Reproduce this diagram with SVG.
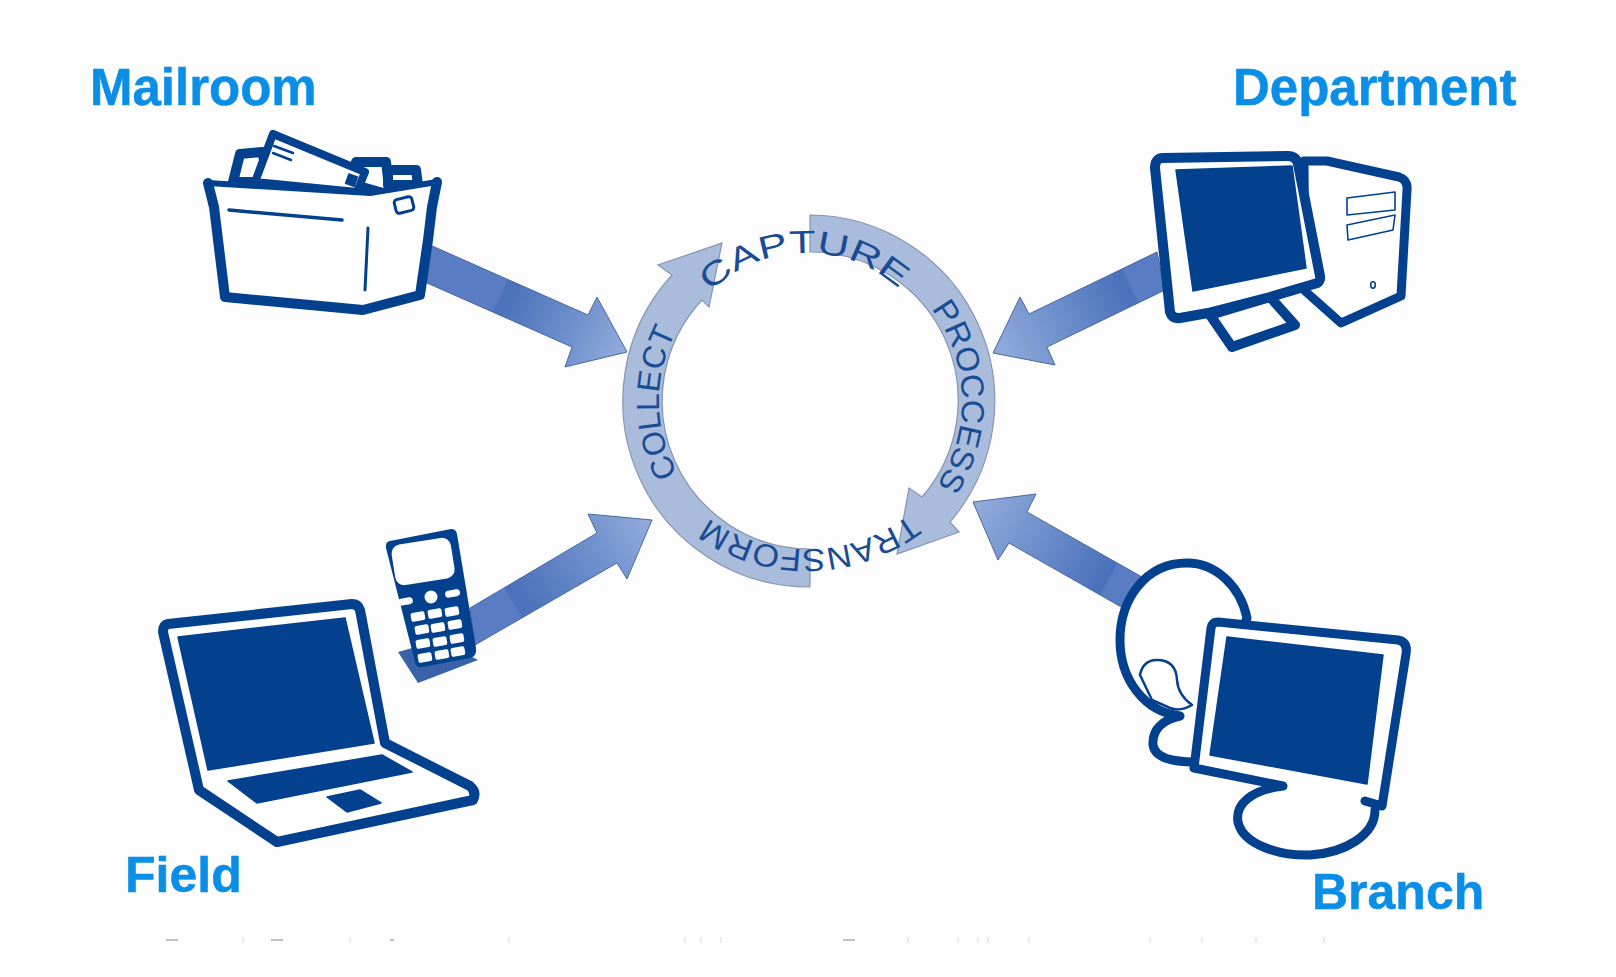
<svg xmlns="http://www.w3.org/2000/svg" xmlns:xlink="http://www.w3.org/1999/xlink" width="1616" height="977" viewBox="0 0 1616 977">
<style>
.lbl{font-family:"Liberation Sans",Arial,sans-serif;font-weight:700;font-size:51px;fill:#0b8fe6;stroke:#0b8fe6;stroke-width:.5}
.ring{fill:#a9bcdc;stroke:#8795b0;stroke-width:1.2}
.rt{font-family:"Liberation Sans",Arial,sans-serif;font-size:32px;fill:#1a4c94}
.ol{fill:#fff;stroke:#03418e;stroke-width:10;stroke-linejoin:round;stroke-linecap:round}
.th{fill:none;stroke:#03418e;stroke-linecap:round;stroke-linejoin:round}
.dk{fill:#03418e;stroke:#03418e;stroke-width:1.5;stroke-linejoin:round}
.key{fill:#fff}
.arw{stroke:#4a68a0;stroke-width:1}
</style>
<defs>
<linearGradient id="g1" gradientUnits="userSpaceOnUse" x1="430" y1="263" x2="627" y2="352"><stop offset="0" stop-color="#5a7cc2"/><stop offset=".35" stop-color="#5a7cc2"/><stop offset=".37" stop-color="#4a70ba"/><stop offset=".72" stop-color="#6f90cc"/><stop offset="1" stop-color="#93acdb"/></linearGradient>
<linearGradient id="g2" gradientUnits="userSpaceOnUse" x1="1160" y1="271" x2="993" y2="353"><stop offset="0" stop-color="#5a7cc2"/><stop offset=".17" stop-color="#5a7cc2"/><stop offset=".19" stop-color="#4a70ba"/><stop offset=".62" stop-color="#6f90cc"/><stop offset="1" stop-color="#93acdb"/></linearGradient>
<linearGradient id="g3" gradientUnits="userSpaceOnUse" x1="472" y1="627" x2="652" y2="520"><stop offset="0" stop-color="#5a7cc2"/><stop offset=".22" stop-color="#5a7cc2"/><stop offset=".24" stop-color="#4a70ba"/><stop offset=".68" stop-color="#6f90cc"/><stop offset="1" stop-color="#93acdb"/></linearGradient>
<linearGradient id="g4" gradientUnits="userSpaceOnUse" x1="1133" y1="592" x2="973" y2="502"><stop offset="0" stop-color="#5a7cc2"/><stop offset=".14" stop-color="#5a7cc2"/><stop offset=".16" stop-color="#4a70ba"/><stop offset=".6" stop-color="#6f90cc"/><stop offset="1" stop-color="#93acdb"/></linearGradient>
<path id="pCap" d="M710,292A138,138 0 0 1 908,298"/>
<path id="pPro" d="M931.2,308.9A153,153 0 0 1 926.2,499.3"/>
<path id="pTra" d="M910,514A170,170 0 0 1 703,514"/>
<path id="pCol" d="M677.8,473.7A150,150 0 0 1 686.1,315"/>
</defs>
<rect width="1616" height="977" fill="#fdfdfe"/>

<g id="connectors">
<path class="arw" fill="url(#g1)" d="M430,245L588,315L597,297L627,352L565,367L572,347L427,283Z"/>
<path class="arw" fill="url(#g2)" d="M1157,252L1029,314L1020,297L993,353L1055,365L1047,347L1165,290Z"/>
<path class="arw" fill="url(#g3)" d="M470,608L597,533L588,514L652,520L627,579L617,563L475,645Z"/>
<path fill="#3a62a8" d="M398,652L418,683L478,660L440,640Z"/>
<path class="arw" fill="url(#g4)" d="M1142,577L1027,512L1036,494L973,502L998,560L1009,543L1123,608Z"/>
</g>

<g id="cycle">
<path class="ring" d="M810,215A186,186 0 0 1 950,522L959,532L897,554L909,488L922,497A148,148 0 0 0 810,252Z"/>
<path class="ring" d="M810,587A186,186 0 0 1 672,275L658,265L722,243L709,307L702,300A148,148 0 0 0 810,549Z"/>
<text class="rt"><textPath href="#pCap" xlink:href="#pCap" textLength="208" lengthAdjust="spacingAndGlyphs">CAPTURE</textPath></text>
<text class="rt"><textPath href="#pPro" xlink:href="#pPro" textLength="188" lengthAdjust="spacingAndGlyphs">PROCCESS</textPath></text>
<text class="rt"><textPath href="#pTra" xlink:href="#pTra" textLength="216" lengthAdjust="spacingAndGlyphs">TRANSFORM</textPath></text>
<text class="rt"><textPath href="#pCol" xlink:href="#pCol" textLength="148" lengthAdjust="spacingAndGlyphs">COLLECT</textPath></text>
</g>

<g id="mailroom">
<text class="lbl" x="90" y="105">Mailroom</text>
<path class="ol" d="M233,182L240,154L262,152L270,182Z"/>
<path class="ol" d="M355,185L356,162L386,162L390,195Z"/>
<path class="ol" d="M388,185L388,170L416,170L418,185Z"/>
<path class="ol" style="stroke-width:8" d="M255,182L273,134L365,172L357,192Z"/>
<path class="th" stroke-width="2.5" d="M274,146L293,153M273,153L291,160"/>
<rect class="dk" x="347" y="175" width="9" height="10" transform="rotate(20 351 180)"/>
<path fill="#fff" d="M208,183L370,193L437,182L430,240L420,295L363,310L225,297L214,207Z"/>
<path class="th" stroke-width="10" d="M208,183L214,207L225,297L363,310L420,295L428,240L432,207L437,182"/>
<path class="th" stroke-width="6" d="M208,183L370,193L437,182"/>
<path class="th" stroke-width="3.5" d="M229,210L342,220"/>
<path class="th" stroke-width="3" d="M368,228L365,290"/>
<rect x="395" y="198" width="18" height="14" rx="3" fill="#fff" stroke="#03418e" stroke-width="3" transform="rotate(-14 404 205)"/>
</g>

<g id="department">
<text class="lbl" x="1233" y="105">Department</text>
<path class="ol" style="stroke-width:9" d="M1304,161L1327,161L1399,177Q1408,180 1407,190L1401,296L1341,323L1305,291Z"/>
<path class="th" stroke-width="1.6" d="M1347,198L1395,192L1395,210L1347,215ZM1347,225L1395,215L1393,230L1348,240Z"/>
<ellipse cx="1373" cy="285" rx="2.3" ry="3.2" fill="none" stroke="#03418e" stroke-width="1.6"/>
<path class="ol" d="M1210,315L1232,347L1295,325L1270,297Z"/>
<path class="ol" d="M1163,158L1288,156Q1296,156 1298,164L1320,276Q1321,283 1314,284L1270,297L1208,313L1180,318Q1172,319 1170,312L1155,168Q1155,158 1163,158Z"/>
<path class="dk" d="M1176,170L1292,166L1306,268L1193,291Z"/>
</g>

<g id="field">
<text class="lbl" x="125" y="892" style="font-size:50px">Field</text>
<path class="ol" d="M168,624L352,604Q358,604 360,610L385,743L470,786Q477,792 473,800L277,842L199,790L163,632Q163,625 168,624Z"/>
<path class="dk" d="M178,637L345,618L374,743L208,770Z"/>
<path class="dk" d="M228,781L382,755L412,772L257,803Z"/>
<path class="dk" d="M327,797L360,790L381,803L347,812Z"/>
<path d="M390,541L451,529Q456,529 457,534L476,648Q477,656 470,658L422,667Q416,668 415,662L386,548Q385,542 390,541Z" fill="#03418e"/>
<rect class="key" x="393" y="541" width="60" height="41" rx="9" transform="rotate(-9 423 561)"/>
<g class="key">
<rect x="398" y="598" width="15" height="7" rx="3.5" transform="rotate(-10 405 602)"/>
<circle cx="431" cy="597" r="6.5"/>
<rect x="445" y="590" width="15" height="7" rx="3.5" transform="rotate(-10 452 593)"/>
<rect x="411" y="612" width="14" height="9" rx="2" transform="rotate(-10 418 617)"/>
<rect x="428" y="609" width="14" height="9" rx="2" transform="rotate(-10 435 614)"/>
<rect x="445" y="607" width="14" height="9" rx="2" transform="rotate(-10 452 612)"/>
<rect x="415" y="625" width="14" height="9" rx="2" transform="rotate(-10 422 630)"/>
<rect x="431" y="623" width="14" height="9" rx="2" transform="rotate(-10 438 628)"/>
<rect x="448" y="620" width="14" height="9" rx="2" transform="rotate(-10 455 625)"/>
<rect x="416" y="639" width="14" height="9" rx="2" transform="rotate(-10 423 644)"/>
<rect x="433" y="637" width="14" height="9" rx="2" transform="rotate(-10 440 642)"/>
<rect x="450" y="634" width="14" height="9" rx="2" transform="rotate(-10 457 639)"/>
<rect x="418" y="653" width="14" height="9" rx="2" transform="rotate(-10 425 658)"/>
<rect x="435" y="650" width="14" height="9" rx="2" transform="rotate(-10 442 655)"/>
<rect x="451" y="647" width="14" height="9" rx="2" transform="rotate(-10 458 652)"/>
</g>
</g>

<g id="branch">
<text class="lbl" x="1312" y="909" style="font-size:50px">Branch</text>
<path class="ol" style="stroke-width:9" d="M1247,618C1240,585 1215,563 1187,563C1145,563 1120,600 1120,640C1120,680 1145,712 1180,716C1162,720 1152,730 1153,745C1155,758 1172,762 1195,762L1215,700Z"/>
<path class="th" stroke-width="2.5" d="M1152,700L1140,675Q1143,660 1157,660Q1176,660 1177,680Q1178,695 1192,705Q1180,712 1170,708Z"/>
<path fill="#fff" d="M1212,622L1398,640L1406,652L1382,806L1375,812C1375,835 1345,853 1310,855C1280,856 1243,845 1238,822C1235,805 1250,792 1283,786L1194,768Z"/>
<path class="th" stroke-width="9" d="M1365,801L1382,806L1406,654Q1408,642 1398,640L1218,622Q1212,622 1211,628L1194,768L1283,786C1250,790 1235,805 1238,822C1243,845 1280,856 1310,855C1345,853 1375,835 1375,810"/>
<path class="dk" d="M1227,637L1383,655L1367,784L1210,755Z"/>
</g>

<g id="caption-residue">
<path fill="none" stroke="#777" stroke-width="1.4" opacity=".6" d="M166,940h12M271,940h12M390,940h4M843,940h12"/>
<path fill="none" stroke="#aaa" stroke-width="1" opacity=".4" d="M243,937v6M350,937v6M509,937v6M685,937v6M701,937v6M721,937v6M908,937v6M958,937v6M978,937v6M988,937v6M1029,937v6M1150,937v6M1202,937v6M1256,937v6M1324,937v6"/>
</g>
</svg>
